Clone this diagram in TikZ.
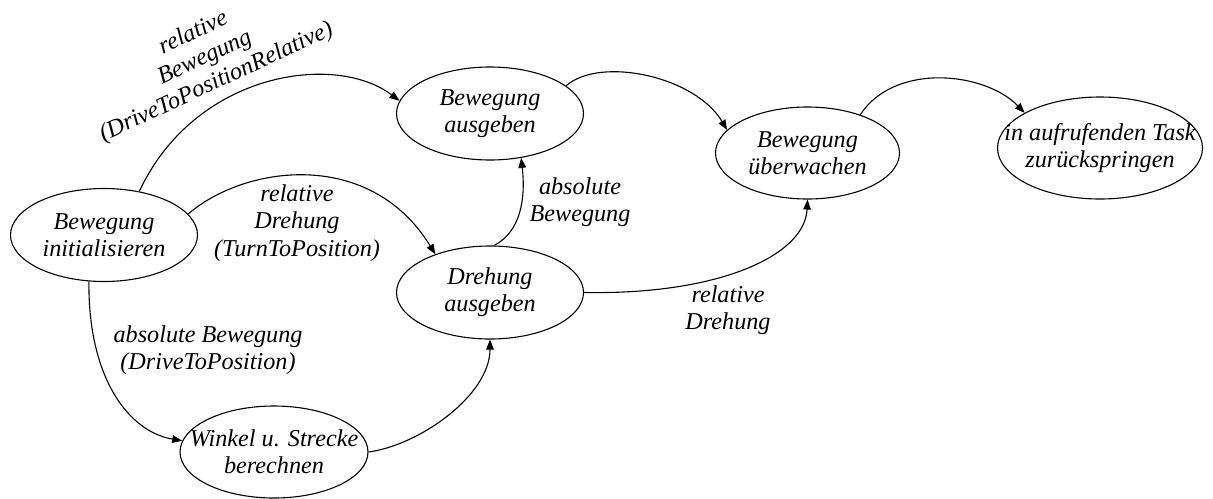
\documentclass[tikz,border=0pt]{standalone}
\usepackage{fontspec}
\setmainfont{Liberation Serif}[ItalicFont={Liberation Serif Italic}]
\usetikzlibrary{shapes.geometric,arrows.meta}
\tikzset{
  el/.style={ellipse, draw, line width=0.55pt, inner sep=0pt, minimum width=93.5pt, minimum height=46.5pt},
  lbl/.style={align=center, inner sep=0pt, font=\fontsize{12.1}{13.6}\selectfont\itshape},
  edge/.style={draw, line width=0.55pt, -{Triangle[length=5pt,width=3.8pt]}}
}
\begin{document}
\begin{tikzpicture}[x=0.5pt, y=-0.5pt]
\useasboundingbox (0,0) rectangle (1213,498);
% states
\node[el] (init) at (104,235) {};
\node[lbl] (tinit) at (init) {Bewegung\\initialisieren};
\node[el] (bausg) at (490,113.5) {};
\node[lbl] (tbausg) at (bausg) {Bewegung\\ausgeben};
\node[el] (dausg) at (490,292.5) {};
\node[lbl] (tdausg) at (dausg) {Drehung\\ausgeben};
\node[el, minimum width=92pt, minimum height=46pt] (ueber) at (807.5,153) {};
\node[lbl] (tueber) at (ueber) {Bewegung\\überwachen};
\node[el, minimum width=102.5pt, minimum height=51pt] (task) at (1100,148) {};
\node[lbl] (ttask) at (task) {in aufrufenden Task\\zurückspringen};
\node[el, minimum width=94pt, minimum height=46pt] (winkel) at (274,452) {};
\node[lbl] (twinkel) at (winkel) {Winkel u. Strecke\\berechnen};
% connectors
\path[edge] (init.51) .. controls (195,72) and (335,52) .. (bausg.172);
\path[edge] (init.14) .. controls (245,165) and (370,148) .. (dausg.145.7);
\path[edge] (init.252) .. controls (88,380) and (130,432) .. (winkel.173.8);
\path[edge] (winkel.0) .. controls (420,445) and (490,395) .. (dausg.270);
\path[edge] (dausg.85) .. controls (520,232) and (526,200) .. (bausg.305);
\path[edge] (bausg.20.3) .. controls (600,56) and (695,76) .. (ueber.164.4);
\path[edge] (dausg.0) .. controls (720,295) and (805,255) .. (ueber.270);
\path[edge] (ueber.36) .. controls (895,62) and (985,72) .. (task.155.8);
% labels
\node[lbl, rotate=25] (l1) at (205,58) {relative\\Bewegung\\(DriveToPositionRelative)};
\node[lbl] (l2) at (297,223) {relative\\Drehung\\(TurnToPosition)};
\node[lbl] (l3) at (208,350) {absolute Bewegung\\(DriveToPosition)};
\node[lbl] (l4) at (580,202) {absolute\\Bewegung};
\node[lbl] (l5) at (728,310) {relative\\Drehung};
\end{tikzpicture}
\end{document}
